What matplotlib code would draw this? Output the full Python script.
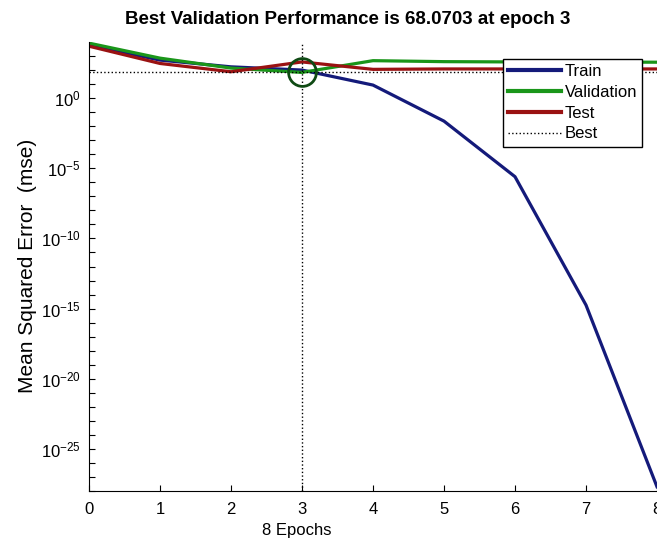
import numpy as np
import matplotlib.pyplot as plt
from matplotlib.ticker import FixedLocator, NullFormatter

plt.rcParams['font.family'] = ['Liberation Sans', 'DejaVu Sans']
plt.rcParams['mathtext.fontset'] = 'custom'
plt.rcParams['mathtext.rm'] = 'Liberation Sans'
plt.rcParams['mathtext.it'] = 'Liberation Sans'

# performance per epoch (mse) as log10 values
epochs = np.arange(0, 9)
train_log = [3.78, 2.71, 2.23, 2.0, 0.93, -1.64, -5.6, -14.75, -27.7]
valid_log = [3.92, 2.85, 2.14, 1.833, 2.67, 2.6, 2.58, 2.57, 2.56]
test_log = [3.70, 2.47, 1.88, 2.58, 2.05, 2.08, 2.08, 2.08, 2.08]
best_epoch = 3
best_perf = 68.0703

train = 10.0 ** np.array(train_log)
valid = 10.0 ** np.array(valid_log)
test = 10.0 ** np.array(test_log)

fig = plt.figure(figsize=(6.57, 5.49), dpi=100)
ax = fig.add_axes([89/657, 58/549, 568/657, 449/549])

ax.semilogy(epochs, train, color='#141a7a', lw=2.3, label='Train')
ax.semilogy(epochs, valid, color='#1a961a', lw=2.3, label='Validation')
ax.semilogy(epochs, test, color='#9a1212', lw=2.3, label='Test')
ax.axhline(best_perf, color='k', ls=':', lw=1.0, label='Best')
ax.axvline(best_epoch, color='k', ls=':', lw=1.0)
ax.plot([best_epoch], [best_perf], 'o', ms=20, mfc='none', mec='#0f4a14', mew=2.0)

ax.set_xlim(0, 8)
ax.set_ylim(1e-28, 1e4)
ax.set_xticks(range(0, 9))
ax.yaxis.set_major_locator(FixedLocator([10.0 ** k for k in range(-25, 1, 5)]))
ax.set_yticklabels([r'$10^{%d}$' % k for k in range(-25, 1, 5)])
ax.yaxis.set_minor_locator(FixedLocator([10.0 ** k for k in range(-28, 4)]))
ax.yaxis.set_minor_formatter(NullFormatter())
ax.tick_params(which='both', direction='in', length=4, width=0.8, labelsize=12,
               top=False, right=False)
ax.tick_params(axis='y', pad=6)
ax.tick_params(axis='x', pad=8)
ax.spines['top'].set_visible(False)
ax.spines['right'].set_visible(False)
ax.set_clip_on(True)

fig.text(348/657, 1 - 20/549, 'Best Validation Performance is 68.0703 at epoch 3',
         ha='center', va='center', fontsize=13.5, fontweight='bold')
fig.text(297/657, 1 - 530/549, '8 Epochs', ha='center', va='center', fontsize=12)
fig.text(28/657, 1 - 266/549, 'Mean Squared Error  (mse)', ha='center', va='center',
         rotation=90, fontsize=15)

leg = ax.legend(loc='upper right', bbox_to_anchor=(553/568, 1 - 17/449),
                fancybox=False, edgecolor='k', framealpha=1, fontsize=12,
                handlelength=3.2, borderpad=0.3, labelspacing=0.35, handletextpad=0.2,
                borderaxespad=0)
leg.get_frame().set_linewidth(1.0)
for line in leg.get_lines()[:3]:
    line.set_linewidth(3.0)

fig.savefig('out.png', dpi=100)
